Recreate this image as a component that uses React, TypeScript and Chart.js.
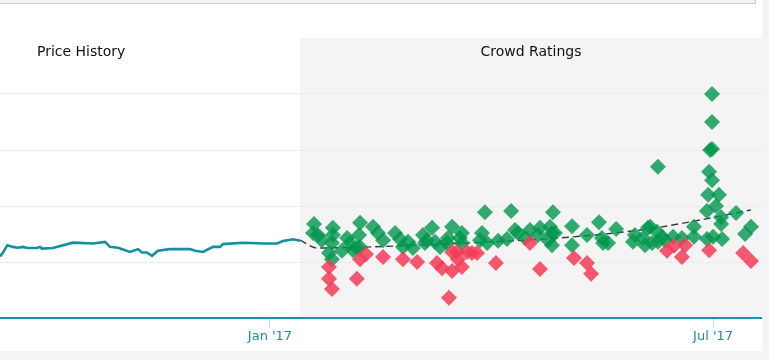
import React, { useEffect, useRef } from "react";
import { Chart, registerables } from "chart.js";

Chart.register(...registerables);

// x values are days relative to 1 Jan 2017, y values are rating/price index units
const priceDays = [-110.3, -109.2, -107.3, -105, -103, -100.9, -99.3, -95.2, -94, -93.2, -88.7, -80.5, -72.3, -67.4, -65.4, -62.1, -57.2, -53.9, -52.3, -50.3, -48.2, -45.8, -40.9, -32.7, -30.6, -27.4, -23.3, -20.4, -19.2, -11, -2.9, 2.9, 5.3, 9.4, 12.3];
const priceValues = [1.1, 1.16, 1.3, 1.27, 1.255, 1.27, 1.25, 1.25, 1.27, 1.24, 1.25, 1.345, 1.33, 1.36, 1.27, 1.255, 1.18, 1.23, 1.17, 1.17, 1.11, 1.2, 1.23, 1.23, 1.2, 1.18, 1.27, 1.27, 1.32, 1.345, 1.33, 1.33, 1.375, 1.405, 1.38];

const trendDays = [12.3, 19.2, 60.1, 80.9, 118.5, 154.4, 175.7, 196.5];
const trendValues = [1.39, 1.25, 1.3, 1.34, 1.43, 1.59, 1.75, 1.93];

const greenDays = [18.0, 19.6, 17.6, 21.2, 25.7, 25.7, 25.3, 24.1, 25.3, 31.5, 29.4, 32.7, 33.9, 36.8, 36.4, 36.8, 35.5, 42.1, 44.1, 46.2, 51.1, 53.1, 54.3, 56.4, 58.4, 62.5, 66.2, 64.1, 63.3, 67.4, 69.5, 74.4, 72.7, 72.3, 78.4, 77.6, 78.4, 87.8, 86.6, 85.8, 88.7, 93.2, 98.5, 96.8, 100.1, 101.3, 106.2, 104.2, 115.6, 110.3, 109.5, 114.4, 115.2, 116.4, 113.6, 115.2, 123.4, 123.4, 129.5, 134.4, 135.6, 136.1, 138.1, 141.4, 149.1, 148.3, 152.4, 153.2, 154.4, 155.3, 158.1, 160.2, 161.4, 164.7, 168.3, 156.1, 158.5, 158.5, 180.6, 180.6, 179.8, 180.6, 179.4, 180.6, 179.0, 183.4, 182.2, 178.5, 184.3, 190.4, 184.3, 173.2, 173.2, 178.5, 181.0, 184.7, 194.1, 196.5];
const greenValues = [1.68, 1.48, 1.52, 1.39, 1.61, 1.48, 1.34, 1.16, 1.05, 1.43, 1.2, 1.34, 1.21, 1.7, 1.48, 1.27, 1.25, 1.63, 1.52, 1.39, 1.52, 1.41, 1.27, 1.36, 1.25, 1.48, 1.61, 1.39, 1.34, 1.36, 1.27, 1.63, 1.43, 1.34, 1.52, 1.43, 1.34, 1.89, 1.52, 1.39, 1.34, 1.38, 1.91, 1.41, 1.57, 1.52, 1.57, 1.43, 1.89, 1.61, 1.48, 1.63, 1.52, 1.52, 1.39, 1.3, 1.64, 1.3, 1.48, 1.71, 1.43, 1.34, 1.34, 1.59, 1.48, 1.36, 1.43, 1.3, 1.61, 1.63, 1.54, 1.45, 1.39, 1.45, 1.43, 1.34, 1.36, 2.7, 4.0, 3.5, 3.0, 3.02, 2.61, 2.46, 2.2, 2.2, 2.0, 1.91, 1.8, 1.875, 1.68, 1.63, 1.45, 1.41, 1.45, 1.41, 1.5, 1.63];

const redDays = [24.1, 24.1, 25.3, 35.5, 36.8, 39.2, 46.2, 54.3, 60.1, 68.2, 70.3, 74.4, 74.4, 76.4, 76.8, 78.4, 80.5, 82.5, 84.6, 92.3, 73.1, 106.2, 110.3, 124.2, 129.5, 131.2, 162.2, 165.1, 169.6, 168.3, 179.4, 193.3, 196.5];
const redValues = [0.91, 0.7, 0.52, 0.7, 1.05, 1.14, 1.09, 1.05, 1.0, 0.98, 0.89, 0.84, 1.18, 1.18, 1.05, 0.91, 1.18, 1.16, 1.16, 0.98, 0.36, 1.34, 0.875, 1.07, 0.98, 0.79, 1.2, 1.29, 1.3, 1.09, 1.21, 1.16, 1.02];

const tickDays = [0, 181];
const tickLabels = ["Jan '17", "Jul '17"];

const axisMinDay = -110.3;
const axisMaxDay = 201.0;
const bandStartDay = 12.26;
const priceTitle = "Price History";
const priceTitleDay = -95.2;
const crowdTitle = "Crowd Ratings";

const toPoints = (xs: number[], ys: number[]) => xs.map((x, i) => ({ x, y: ys[i] }));

export default function App() {
  const canvasRef = useRef<HTMLCanvasElement | null>(null);

  useEffect(() => {
    if (!canvasRef.current) return;

    const bandPlugin = {
      id: "bandAndTitles",
      beforeDraw(chart: any) {
        const { ctx, chartArea, scales } = chart;
        const x0 = scales.x.getPixelForValue(bandStartDay);
        ctx.save();
        ctx.fillStyle = "#f4f4f4";
        ctx.fillRect(x0, chartArea.top, chartArea.right - x0, chartArea.bottom - chartArea.top);
        ctx.restore();
      },
      afterDraw(chart: any) {
        const { ctx, chartArea, scales } = chart;
        const x0 = scales.x.getPixelForValue(bandStartDay);
        ctx.save();
        ctx.fillStyle = "#111111";
        ctx.font = '14px "DejaVu Sans"';
        ctx.textBaseline = "middle";
        ctx.textAlign = "left";
        ctx.fillText(priceTitle, scales.x.getPixelForValue(priceTitleDay), 52);
        ctx.textAlign = "center";
        ctx.fillText(crowdTitle, (x0 + chartArea.right) / 2, 52);
        ctx.restore();
      },
    };

    const chart = new Chart(canvasRef.current, {
      type: "scatter",
      data: {
        datasets: [
          {
            label: "Price",
            data: toPoints(priceDays, priceValues),
            showLine: true,
            borderColor: "#138ea3",
            borderWidth: 2.6,
            pointRadius: 0,
            tension: 0,
            order: 4,
          },
          {
            label: "Trend",
            data: toPoints(trendDays, trendValues),
            showLine: true,
            borderColor: "#3a3a3a",
            borderWidth: 1.4,
            borderDash: [7, 4],
            pointRadius: 0,
            cubicInterpolationMode: "monotone",
            order: 3,
          },
          {
            label: "Positive",
            data: toPoints(greenDays, greenValues),
            pointStyle: "rectRot",
            pointRadius: 8,
            borderWidth: 0,
            backgroundColor: "rgba(0,150,78,0.8)",
            order: 2,
          },
          {
            label: "Negative",
            data: toPoints(redDays, redValues),
            pointStyle: "rectRot",
            pointRadius: 8,
            borderWidth: 0,
            backgroundColor: "rgba(242,60,88,0.85)",
            order: 1,
          },
        ],
      },
      options: {
        animation: false,
        responsive: false,
        devicePixelRatio: 1,
        events: [],
        layout: { autoPadding: false, padding: { left: 0, right: 0, top: 38, bottom: 0 } },
        plugins: {
          legend: { display: false },
          tooltip: { enabled: false },
        },
        scales: {
          x: {
            type: "linear",
            min: axisMinDay,
            max: axisMaxDay,
            afterBuildTicks: (scale: any) => {
              scale.ticks = tickDays.map((v) => ({ value: v }));
            },
            afterFit: (scale: any) => {
              scale.height = 33;
            },
            ticks: {
              autoSkip: false,
              maxRotation: 0,
              color: "#1a8ea0",
              font: { family: "DejaVu Sans", size: 13 },
              padding: 2,
              callback: (value: any) => {
                const i = tickDays.indexOf(Number(value));
                return i >= 0 ? tickLabels[i] : "";
              },
            },
            grid: {
              drawOnChartArea: false,
              drawTicks: true,
              tickLength: 9,
              color: "#ccd6eb",
              lineWidth: 1,
            },
            border: { display: true, color: "#1896a8", width: 2 },
          },
          y: {
            min: 0,
            max: 5,
            ticks: { display: false, stepSize: 1 },
            grid: {
              drawTicks: false,
              color: (ctx: any) => (ctx.tick && ctx.tick.value === 5 ? "rgba(0,0,0,0)" : "#ebebeb"),
              lineWidth: 1,
            },
            border: { display: false },
          },
        },
      },
      plugins: [bandPlugin],
    } as any);

    return () => chart.destroy();
  }, []);

  return (
    <div style={{ position: "fixed", left: 0, top: 0, width: 769, height: 360, background: "#ffffff", overflow: "hidden" }}>
      <div style={{ position: "absolute", left: 0, top: 0, width: 755, height: 3, background: "#f2f2f2", borderBottom: "1px solid #cfcfcf", borderRight: "1px solid #cfcfcf" }} />
      <div style={{ position: "absolute", left: 762, top: 0, width: 7, height: 360, background: "#f3f4f8" }} />
      <div style={{ position: "absolute", left: 0, top: 351, width: 762, height: 9, background: "#f3f4f8" }} />
      <canvas ref={canvasRef} width={762} height={351} style={{ position: "absolute", left: 0, top: 0, display: "block" }} />
    </div>
  );
}
